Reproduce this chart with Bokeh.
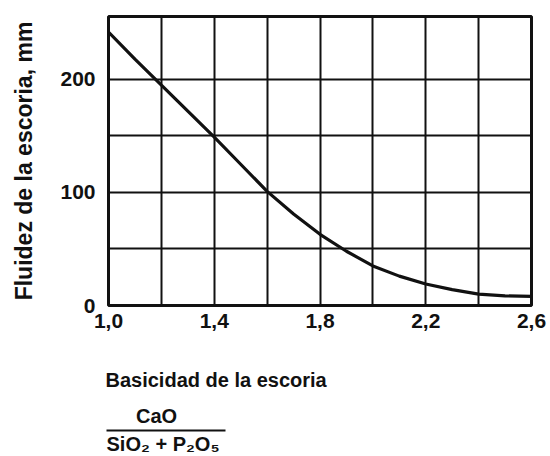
from bokeh.plotting import figure
from bokeh.layouts import column
from bokeh.models import (FixedTicker, CustomJSTickFormatter, ColumnDataSource, Range1d)
from bokeh.core.properties import value
from bokeh.embed import file_html
from bokeh.resources import INLINE

# ---- data ----
basicity = [1.0, 1.1, 1.2, 1.3, 1.4, 1.5, 1.6, 1.7, 1.8, 1.9,
            2.0, 2.1, 2.2, 2.3, 2.4, 2.5, 2.6]
fluidity = [242, 218, 195, 172, 149, 125, 101, 81, 63, 48,
            35, 26, 19, 14, 10, 8.5, 8]

x_ticks = [1.0, 1.4, 1.8, 2.2, 2.6]
x_grid = [1.0, 1.2, 1.4, 1.6, 1.8, 2.0, 2.2, 2.4, 2.6]
y_ticks = [0, 100, 200]
y_grid = [0, 50, 100, 150, 200]

y_title = "Fluidez de la escoria, mm"
x_title = "Basicidad de la escoria"
frac_num = "CaO"
frac_den = "SiO\u2082 + P\u2082O\u2085"

FONT = "Liberation Sans"
INK = "#111111"

W = 550
TOP_H = 335
BOT_H = 456 - TOP_H
LEFT = 108
RIGHT = 19

p = figure(width=W, height=TOP_H, output_backend="svg", toolbar_location=None,
           x_range=Range1d(1.0, 2.6), y_range=Range1d(0, 255.75),
           min_border_left=LEFT, min_border_right=RIGHT,
           min_border_top=16, min_border_bottom=TOP_H - 305,
           background_fill_color="white", border_fill_color="white")
p.frame_align = False

p.outline_line_color = INK
p.outline_line_width = 3

for ax in (p.xaxis[0], p.yaxis[0]):
    ax.axis_line_color = None
    ax.major_tick_line_color = None
    ax.minor_tick_line_color = None
    ax.major_tick_out = 0
    ax.major_tick_in = 0
    ax.major_label_text_font = FONT
    ax.major_label_text_font_style = "bold"
    ax.major_label_text_font_size = "21px"
    ax.major_label_text_color = INK

p.xaxis.ticker = FixedTicker(ticks=x_ticks)
p.xaxis.formatter = CustomJSTickFormatter(code="return tick.toFixed(1).replace('.', ',');")
p.xaxis.major_label_standoff = 8
p.yaxis.ticker = FixedTicker(ticks=y_ticks)
p.yaxis.major_label_standoff = 13
p.yaxis.axis_label = y_title
p.yaxis.axis_label_standoff = 20
p.yaxis.axis_label_text_font = FONT
p.yaxis.axis_label_text_font_style = "bold"
p.yaxis.axis_label_text_font_size = "23px"
p.yaxis.axis_label_text_color = INK

p.xgrid.ticker = FixedTicker(ticks=x_grid)
p.ygrid.ticker = FixedTicker(ticks=y_grid)
for g in (p.xgrid[0], p.ygrid[0]):
    g.grid_line_color = INK
    g.grid_line_width = 2
    g.grid_line_alpha = 1.0

src = ColumnDataSource(dict(x=basicity, y=fluidity))
p.line("x", "y", source=src, line_color=INK, line_width=3.2)

# ---- lower panel: x title and the CaO / (SiO2 + P2O5) fraction ----
q = figure(width=W, height=BOT_H, output_backend="svg", toolbar_location=None,
           x_range=Range1d(0, W), y_range=Range1d(BOT_H, 0),
           x_axis_location=None, y_axis_location=None,
           min_border=0, min_border_left=0, min_border_right=0,
           min_border_top=0, min_border_bottom=0,
           outline_line_color=None,
           background_fill_color="white", border_fill_color="white")
q.frame_align = False
q.xgrid.visible = False
q.ygrid.visible = False

txt = ColumnDataSource(dict(
    x=[105, 156, 106],
    y=[379 - TOP_H, 415 - TOP_H, 443 - TOP_H],
    t=[x_title, frac_num, frac_den],
    a=["left", "center", "left"],
))
q.text(x="x", y="y", text="t", source=txt, text_align="a",
       text_baseline="middle", text_font=value(FONT), text_font_style="bold",
       text_font_size="20px", text_color=INK)
q.line(x=[106, 225], y=[430 - TOP_H, 430 - TOP_H], line_color=INK, line_width=2)

layout = column(p, q, spacing=0)
open("out.html", "w").write(file_html(layout, INLINE))
